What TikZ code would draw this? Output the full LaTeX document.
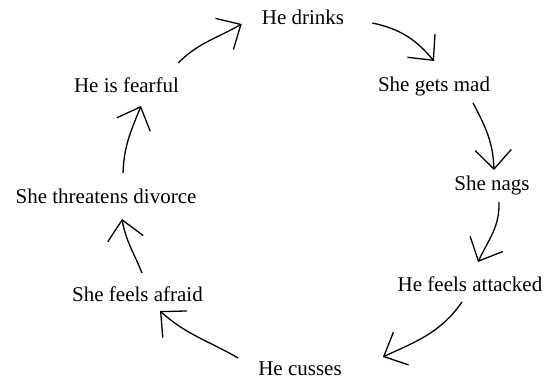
\documentclass[tikz,border=0pt]{standalone}
\usepackage{fontspec}
\setmainfont{Liberation Serif}
\usetikzlibrary{arrows.meta}
\begin{document}
\begin{tikzpicture}[x=1pt,y=1pt,
        every node/.style={font=\fontsize{21}{25}\selectfont, anchor=base, inner sep=0pt},
        cyc/.style={-{Straight Barb[length=19pt,width=36pt]}, line width=1.3pt}]
    \useasboundingbox (0,0) rectangle (560,382);
    % the eight steps of the circle
    \foreach \n/\x/\y/\t in {drinks/303/357/He drinks, mad/434/290/She gets mad,
            nags/492/191/She nags, attacked/470/90/He feels attacked,
            cusses/300/6/He cusses, afraid/137.5/80/She feels afraid,
            divorce/106/178/She threatens divorce, fearful/126.5/289/He is fearful}{
        \node (\n) at (\x,\y) {\t};
    }
    % arrows round the circle
    \draw [cyc] ([shift={(28,2)}]drinks.base east) to[out=-12,in=130] ([shift={(0,31)}]mad.base);
    \draw [cyc] ([shift={(39,-11)}]mad.base) to[out=-62,in=92] ([shift={(2,21)}]nags.base);
    \draw [cyc] ([shift={(7,-11)}]nags.base) to[out=-88,in=65] ([shift={(8,30)}]attacked.base);
    \draw [cyc] ([shift={(-8,-10)}]attacked.base) to[out=-125,in=25] ([shift={(41,19)}]cusses.base east);
    \draw [cyc] ([shift={(-20,18)}]cusses.base west) to[out=150,in=-42] ([shift={(22.5,-9)}]afraid.base);
    \draw [cyc] ([shift={(4.5,29)}]afraid.base) to[out=112,in=-80] ([shift={(16,-15)}]divorce.base);
    \draw [cyc] ([shift={(17,31)}]divorce.base) to[out=88,in=-112] ([shift={(14.5,-13)}]fearful.base);
    \draw [cyc] ([shift={(-1,30)}]fearful.base east) to[out=45,in=-150] ([shift={(-20,1)}]drinks.base west);
\end{tikzpicture}
\end{document}
